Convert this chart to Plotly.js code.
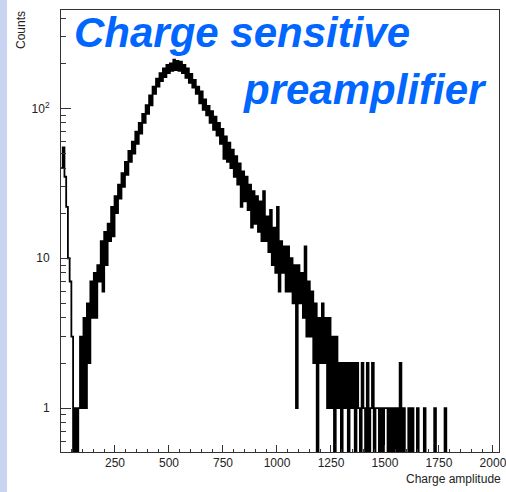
<!DOCTYPE html>
<html>
<head>
<meta charset="utf-8">
<script src="https://cdn.plot.ly/plotly-3.0.1.min.js"></script>
<style>html,body{margin:0;padding:0;background:#fff;}#chart{width:506px;height:492px;}</style>
</head>
<body>
<div id="chart"></div>
<script>
// Histogram of charge amplitude, 8-channel bins starting at channel 0
const binWidth = 8;
const counts = [
  40, 55, 35, 22, 10, 7, 3, 0, 1, 0,
  1, 3, 1, 4, 1, 5, 2, 7, 4, 8,
  4, 9, 7, 13, 6, 15, 9, 17, 13, 22,
  14, 26, 20, 31, 25, 37, 30, 44, 36, 52,
  44, 60, 50, 70, 58, 80, 68, 92, 80, 105,
  92, 122, 105, 140, 125, 158, 140, 172, 152, 185,
  162, 195, 172, 200, 178, 212, 180, 208, 178, 205,
  172, 195, 160, 185, 148, 170, 138, 155, 125, 140,
  108, 130, 98, 115, 90, 104, 80, 96, 72, 88,
  66, 80, 58, 73, 46, 65, 44, 59, 40, 53,
  35, 48, 31, 43, 22, 38, 24, 35, 21, 31,
  16, 28, 17, 26, 15, 24, 13, 28, 13, 19,
  11, 21, 9, 16, 8, 22, 6, 13, 8, 12,
  6, 12, 6, 10, 5, 9, 1, 9, 5, 8,
  4, 12, 3, 7, 3, 6, 2, 5, 0, 4,
  2, 5, 2, 4, 1, 4, 1, 3, 0, 3,
  1, 2, 0, 2, 1, 2, 0, 2, 1, 2,
  0, 2, 1, 0, 2, 1, 0, 2, 0, 1,
  2, 0, 1, 1, 0, 1, 0, 1, 1, 0,
  1, 0, 1, 0, 1, 0, 2, 0, 1, 0,
  0, 1, 0, 1, 0, 0, 1, 0, 0, 0,
  1, 0, 0, 0, 0, 0, 1, 0, 0, 0,
  0, 0, 1, 0, 0
];
const xTickVals = [250, 500, 750, 1000, 1250, 1500, 1750, 2000];
const xTickText = ["250", "500", "750", "1000", "1250", "1500", "1750", "2000"];
const yTickVals = [1, 10, 100];
const yTickText = ["1", "10", "10<sup>2</sup>"];
const titleLines = ["Charge sensitive", "preamplifier"];
const xTitle = "Charge amplitude";
const yTitle = "Counts";

// build step line from bin edges
const xs = counts.map((c, i) => i * binWidth);
xs.push(counts.length * binWidth);
const floorVal = 0.3; // zero bins drawn down past the bottom of the log axis
const ys = counts.map(c => (c > 0 ? c : floorVal));
ys.push(ys[ys.length - 1]);

const W = 506, H = 492;
const M = {l: 61, r: 7, t: 10, b: 40};
const PW = W - M.l - M.r, PH = H - M.t - M.b;
const px = x => (x - M.l) / PW;
const py = y => (H - M.b - y) / PH;

const yMinor = [0.6, 0.7, 0.8, 0.9, 2, 3, 4, 5, 6, 7, 8, 9, 20, 30, 40, 50, 60, 70, 80, 90, 200, 300, 400];
const xMinor = [];
for (let v = 50; v <= 2000; v += 50) if (v % 250 !== 0) xMinor.push(v);

const tickFont = {family: "Liberation Sans, Arial, sans-serif", size: 12, color: "#222"};
const titleFont = {family: "Liberation Sans, Arial, sans-serif", size: 42, color: "#0066ff", weight: "bold", style: "italic"};

const trace = {
  type: "scatter", mode: "lines", x: xs, y: ys,
  line: {shape: "hv", color: "#000", width: 1.8},
  hoverinfo: "skip", showlegend: false
};

const layout = {
  width: W, height: H,
  margin: M,
  paper_bgcolor: "#fff", plot_bgcolor: "#fff",
  showlegend: false,
  xaxis: {
    range: [0, 2028], showgrid: false, zeroline: false,
    showline: true, linecolor: "#333", linewidth: 1, mirror: true,
    ticks: "inside", ticklen: 7, tickcolor: "#333", tickwidth: 1,
    tickmode: "array", tickvals: xTickVals, ticktext: xTickText,
    tickfont: tickFont, ticklabeloverflow: "allow",
    minor: {ticks: "inside", ticklen: 3, tickcolor: "#333", tickmode: "array", tickvals: xMinor, showgrid: false}
  },
  yaxis: {
    type: "log", range: [-0.293, 2.657], showgrid: false, zeroline: false,
    showline: true, linecolor: "#333", linewidth: 1, mirror: true,
    ticks: "inside", ticklen: 10, tickcolor: "#333", tickwidth: 1,
    tickmode: "array", tickvals: yTickVals, ticktext: yTickText,
    tickfont: tickFont, ticklabelstandoff: 8,
    minor: {ticks: "inside", ticklen: 5, tickcolor: "#333", tickmode: "array", tickvals: yMinor, showgrid: false}
  },
  shapes: [{
    type: "rect", xref: "paper", yref: "paper", layer: "below",
    x0: px(-5), x1: px(7), y0: py(500), y1: py(-10),
    fillcolor: "#c8d4f0", line: {width: 0}
  }],
  annotations: [
    {text: titleLines[0], xref: "paper", yref: "paper", x: px(72), y: py(32), xanchor: "left", yanchor: "middle", showarrow: false, font: titleFont},
    {text: titleLines[1], xref: "paper", yref: "paper", x: px(241), y: py(89), xanchor: "left", yanchor: "middle", showarrow: false, font: titleFont},
    {text: xTitle, xref: "paper", yref: "paper", x: px(503), y: py(479), xanchor: "right", yanchor: "middle", showarrow: false, font: {family: "Liberation Sans, Arial, sans-serif", size: 12, color: "#222"}},
    {text: yTitle, xref: "paper", yref: "paper", x: px(21), y: py(30), xanchor: "center", yanchor: "middle", textangle: -90, showarrow: false, font: {family: "Liberation Sans, Arial, sans-serif", size: 12, color: "#222"}}
  ]
};

Plotly.newPlot("chart", [trace], layout, {staticPlot: true, displayModeBar: false});
</script>
</body>
</html>
